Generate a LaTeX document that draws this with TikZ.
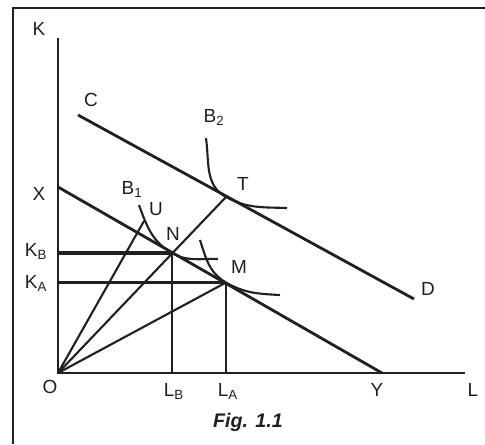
\documentclass[tikz,border=0pt]{standalone}
\usepackage{fontspec}
\setmainfont{Liberation Sans}
\usepackage{xcolor}
\usepackage{tikz}
\usetikzlibrary{calc}
\definecolor{inkblack}{HTML}{231F20}

\begin{document}
\begin{tikzpicture}[scale=0.25, inkblack,
  every node/.style={font=\fontsize{13.5}{15}\selectfont},
  axisline/.style={line width=2pt},
  thinline/.style={line width=1.5pt},
  isoquant/.style={line width=1.5pt}]
\useasboundingbox (-5.8,-7.1) rectangle (42.7,37.3);
% frame
\draw[line width=2.1pt] (-4.5,-7.1) -- (-4.5,36.5) -- (42.7,36.5);
% points
\coordinate (O) at (0,0);
\coordinate (Ktop) at (0,33.5);
\coordinate (Lend) at (40.7,0);
\coordinate (X) at (0,18.6);
\coordinate (Y) at (32.4,0);
\coordinate (C) at (2.0,25.8);
\coordinate (D) at (35.6,7.4);
\coordinate (T) at (16.8,17.6);
\coordinate (N) at (11.4,12.0);
\coordinate (M) at (16.8,9.05);
\coordinate (U) at (8.6,15.2);
\coordinate (KB) at (0,12.0);
\coordinate (KA) at (0,9.05);
\coordinate (LB) at (11.4,0);
\coordinate (LA) at (16.8,0);
% axes and budget lines
\draw[axisline] (Ktop) -- (O) -- (Lend);
\draw[axisline] (X) -- (Y);
\draw[axisline] (C) -- (D);
% rays from the origin
\draw[thinline] (O) -- (T);
\draw[thinline] (O) -- (U);
\draw[thinline] (O) -- (M);
% projections
\draw[line width=2.3pt] (KB) -- (N);
\draw[thinline] (N) -- (LB);
\draw[thinline] (KA) -- (M);
\draw[axisline] (M) -- (LA);
% isoquants
\draw[isoquant] (14.8,23.5) to[out=-82,in=151.3] (T) to[out=-28.7,in=178] (22.9,16.5);
\draw[isoquant] (8.1,16.8) to[out=-70,in=150.1] (N) to[out=-29.9,in=178] (16.0,11.4);
\draw[isoquant] (14.2,13.3) to[out=-72,in=150.1] (M) to[out=-29.9,in=177] (22.2,7.8);
% labels
\node (kLbl) at (-1.9,34.4) {K};
\node (cLbl) at (3.3,27.3) {C};
\node (b2Lbl) at (15.6,25.6) {B\textsubscript{2}};
\node (tLbl) at (18.5,18.9) {T};
\node (xLbl) at (-1.9,17.9) {X};
\node (b1Lbl) at (7.4,18.4) {B\textsubscript{1}};
\node (uLbl) at (9.8,16.4) {U};
\node (nLbl) at (11.5,13.9) {N};
\node (mLbl) at (18.1,10.6) {M};
\node (kbLbl) at (-2.2,12.2) {K\textsubscript{B}};
\node (kaLbl) at (-2.2,9.0) {K\textsubscript{A}};
\node (oLbl) at (-0.8,-1.4) {O};
\node (lbLbl) at (11.6,-1.8) {L\textsubscript{B}};
\node (laLbl) at (17.0,-1.8) {L\textsubscript{A}};
\node (yLbl) at (31.9,-1.7) {Y};
\node (lLbl) at (41.5,-1.7) {L};
\node (dLbl) at (37.0,8.4) {D};
\node[font=\bfseries\itshape\fontsize{14}{16}\selectfont] (figLbl) at (19.0,-4.9) {Fig. 1.1};
\end{tikzpicture}
\end{document}
